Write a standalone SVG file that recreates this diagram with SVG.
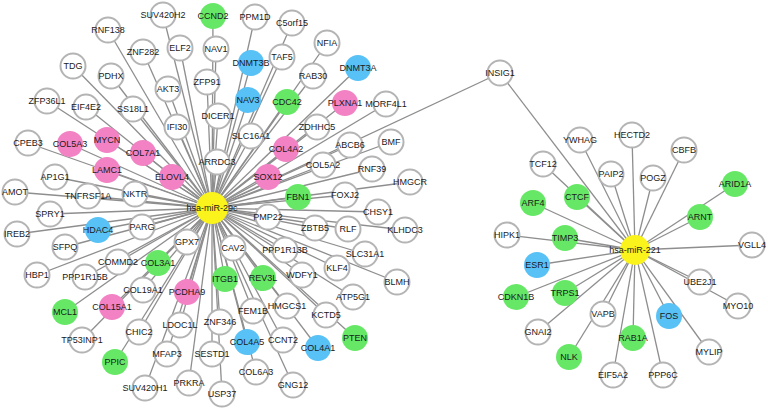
<svg xmlns="http://www.w3.org/2000/svg" width="768" height="410" viewBox="0 0 768 410">
<style>
.bg{fill:#fff}
#edges path{stroke:#8e8e8e;stroke-width:1.3;fill:none}
.n circle{fill:#fff;stroke:#b4b4b4;stroke-width:2}
.n.g circle{fill:#66e866;stroke:none}
.n.b circle{fill:#58c1f6;stroke:none}
.n.p circle{fill:#f282c4;stroke:none}
.n.h circle{fill:#fbf31c;stroke:none}
text{font-family:"Liberation Sans",Arial,sans-serif;font-size:9px;fill:#1a1a1a;text-anchor:middle;dominant-baseline:central}
</style>
<rect class="bg" width="768" height="410"/>
<g id="edges">
<path d="M212 208L163 15"/><path d="M212 208L108 30"/><path d="M212 208L180 48"/><path d="M212 208L143 52"/>
<path d="M212 208L73 66"/><path d="M212 208L111 76"/><path d="M212 208L168 89"/><path d="M212 208L47 101"/>
<path d="M212 208L86 107"/><path d="M212 208L133 109"/><path d="M212 208L177 127"/><path d="M212 208L255 17"/>
<path d="M212 208L292 23"/><path d="M212 208L216 49"/><path d="M212 208L282 57"/><path d="M212 208L327 43"/>
<path d="M212 208L207 82"/><path d="M212 208L313 76"/><path d="M212 208L218 116"/><path d="M212 208L317 127"/>
<path d="M212 208L251 136"/><path d="M212 208L386 104"/><path d="M212 208L217 162"/><path d="M212 208L350 145"/>
<path d="M212 208L391 142"/><path d="M212 208L323 165"/><path d="M212 208L372 169"/><path d="M212 208L410 182"/>
<path d="M212 208L345 195"/><path d="M212 208L378 212"/><path d="M212 208L268 217"/><path d="M212 208L315 228"/>
<path d="M212 208L348 229"/><path d="M212 208L405 230"/><path d="M212 208L285 250"/><path d="M212 208L365 254"/>
<path d="M212 208L233 248"/><path d="M212 208L187 242"/><path d="M212 208L337 268"/><path d="M212 208L397 282"/>
<path d="M212 208L302 275"/><path d="M212 208L353 297"/><path d="M212 208L287 306"/><path d="M212 208L253 311"/>
<path d="M212 208L326 315"/><path d="M212 208L220 322"/><path d="M212 208L283 340"/><path d="M212 208L212 354"/>
<path d="M212 208L256 372"/><path d="M212 208L293 385"/><path d="M212 208L222 394"/><path d="M212 208L189 383"/>
<path d="M212 208L145 388"/><path d="M212 208L167 354"/><path d="M212 208L180 325"/><path d="M212 208L139 332"/>
<path d="M212 208L143 290"/><path d="M212 208L82 340"/><path d="M212 208L85 277"/><path d="M212 208L37 275"/>
<path d="M212 208L118 262"/><path d="M212 208L65 247"/><path d="M212 208L142 227"/><path d="M212 208L17 234"/>
<path d="M212 208L50 214"/><path d="M212 208L135 194"/><path d="M212 208L88 196"/><path d="M212 208L15 192"/>
<path d="M212 208L55 177"/><path d="M212 208L28 143"/><path d="M212 208L500 73"/>
<path d="M212 208L213 16"/><path d="M212 208L287 102"/><path d="M212 208L298 197"/><path d="M212 208L158 263"/>
<path d="M212 208L65 312"/><path d="M212 208L115 362"/><path d="M212 208L225 279"/><path d="M212 208L263 278"/>
<path d="M212 208L355 338"/><path d="M212 208L251 63"/><path d="M212 208L248 100"/><path d="M212 208L358 68"/>
<path d="M212 208L98 230"/><path d="M212 208L247 342"/><path d="M212 208L318 348"/><path d="M212 208L70 144"/>
<path d="M212 208L107 140"/><path d="M212 208L143 153"/><path d="M212 208L107 170"/><path d="M212 208L172 177"/>
<path d="M212 208L345 103"/><path d="M212 208L286 149"/><path d="M212 208L268 177"/><path d="M212 208L187 292"/>
<path d="M212 208L112 307"/>
<path d="M635 250L500 73"/><path d="M635 250L580 140"/><path d="M635 250L632 135"/><path d="M635 250L684 150"/>
<path d="M635 250L543 164"/><path d="M635 250L611 174"/><path d="M635 250L653 178"/><path d="M635 250L735 184"/>
<path d="M635 250L533 203"/><path d="M635 250L577 197"/><path d="M635 250L700 217"/><path d="M635 250L507 235"/>
<path d="M635 250L565 238"/><path d="M635 250L752 245"/><path d="M635 250L537 265"/><path d="M635 250L700 282"/>
<path d="M635 250L516 297"/><path d="M635 250L565 293"/><path d="M635 250L738 306"/><path d="M635 250L603 314"/>
<path d="M635 250L669 316"/><path d="M635 250L538 332"/><path d="M635 250L633 338"/><path d="M635 250L709 352"/>
<path d="M635 250L569 357"/><path d="M635 250L613 375"/><path d="M635 250L663 375"/>
</g>
<g id="nodes">
<g id="n-SUV420H2" class="n"><circle cx="163" cy="15" r="12.5"/><text x="163" y="15">SUV420H2</text></g>
<g id="n-RNF138" class="n"><circle cx="108" cy="30" r="12.5"/><text x="108" y="30">RNF138</text></g>
<g id="n-ELF2" class="n"><circle cx="180" cy="48" r="12.5"/><text x="180" y="48">ELF2</text></g>
<g id="n-ZNF282" class="n"><circle cx="143" cy="52" r="12.5"/><text x="143" y="52">ZNF282</text></g>
<g id="n-TDG" class="n"><circle cx="73" cy="66" r="12.5"/><text x="73" y="66">TDG</text></g>
<g id="n-PDHX" class="n"><circle cx="111" cy="76" r="12.5"/><text x="111" y="76">PDHX</text></g>
<g id="n-AKT3" class="n"><circle cx="168" cy="89" r="12.5"/><text x="168" y="89">AKT3</text></g>
<g id="n-ZFP36L1" class="n"><circle cx="47" cy="101" r="12.5"/><text x="47" y="101">ZFP36L1</text></g>
<g id="n-EIF4E2" class="n"><circle cx="86" cy="107" r="12.5"/><text x="86" y="107">EIF4E2</text></g>
<g id="n-SS18L1" class="n"><circle cx="133" cy="109" r="12.5"/><text x="133" y="109">SS18L1</text></g>
<g id="n-IFI30" class="n"><circle cx="177" cy="127" r="12.5"/><text x="177" y="127">IFI30</text></g>
<g id="n-PPM1D" class="n"><circle cx="255" cy="17" r="12.5"/><text x="255" y="17">PPM1D</text></g>
<g id="n-C5orf15" class="n"><circle cx="292" cy="23" r="12.5"/><text x="292" y="23">C5orf15</text></g>
<g id="n-NAV1" class="n"><circle cx="216" cy="49" r="12.5"/><text x="216" y="49">NAV1</text></g>
<g id="n-TAF5" class="n"><circle cx="282" cy="57" r="12.5"/><text x="282" y="57">TAF5</text></g>
<g id="n-NFIA" class="n"><circle cx="327" cy="43" r="12.5"/><text x="327" y="43">NFIA</text></g>
<g id="n-ZFP91" class="n"><circle cx="207" cy="82" r="12.5"/><text x="207" y="82">ZFP91</text></g>
<g id="n-RAB30" class="n"><circle cx="313" cy="76" r="12.5"/><text x="313" y="76">RAB30</text></g>
<g id="n-DICER1" class="n"><circle cx="218" cy="116" r="12.5"/><text x="218" y="116">DICER1</text></g>
<g id="n-ZDHHC5" class="n"><circle cx="317" cy="127" r="12.5"/><text x="317" y="127">ZDHHC5</text></g>
<g id="n-SLC16A1" class="n"><circle cx="251" cy="136" r="12.5"/><text x="251" y="136">SLC16A1</text></g>
<g id="n-MORF4L1" class="n"><circle cx="386" cy="104" r="12.5"/><text x="386" y="104">MORF4L1</text></g>
<g id="n-ARRDC3" class="n"><circle cx="217" cy="162" r="12.5"/><text x="217" y="162">ARRDC3</text></g>
<g id="n-ABCB6" class="n"><circle cx="350" cy="145" r="12.5"/><text x="350" y="145">ABCB6</text></g>
<g id="n-BMF" class="n"><circle cx="391" cy="142" r="12.5"/><text x="391" y="142">BMF</text></g>
<g id="n-COL5A2" class="n"><circle cx="323" cy="165" r="12.5"/><text x="323" y="165">COL5A2</text></g>
<g id="n-RNF39" class="n"><circle cx="372" cy="169" r="12.5"/><text x="372" y="169">RNF39</text></g>
<g id="n-HMGCR" class="n"><circle cx="410" cy="182" r="12.5"/><text x="410" y="182">HMGCR</text></g>
<g id="n-FOXJ2" class="n"><circle cx="345" cy="195" r="12.5"/><text x="345" y="195">FOXJ2</text></g>
<g id="n-CHSY1" class="n"><circle cx="378" cy="212" r="12.5"/><text x="378" y="212">CHSY1</text></g>
<g id="n-PMP22" class="n"><circle cx="268" cy="217" r="12.5"/><text x="268" y="217">PMP22</text></g>
<g id="n-ZBTB5" class="n"><circle cx="315" cy="228" r="12.5"/><text x="315" y="228">ZBTB5</text></g>
<g id="n-RLF" class="n"><circle cx="348" cy="229" r="12.5"/><text x="348" y="229">RLF</text></g>
<g id="n-KLHDC3" class="n"><circle cx="405" cy="230" r="12.5"/><text x="405" y="230">KLHDC3</text></g>
<g id="n-PPP1R13B" class="n"><circle cx="285" cy="250" r="12.5"/><text x="285" y="250">PPP1R13B</text></g>
<g id="n-SLC31A1" class="n"><circle cx="365" cy="254" r="12.5"/><text x="365" y="254">SLC31A1</text></g>
<g id="n-CAV2" class="n"><circle cx="233" cy="248" r="12.5"/><text x="233" y="248">CAV2</text></g>
<g id="n-GPX7" class="n"><circle cx="187" cy="242" r="12.5"/><text x="187" y="242">GPX7</text></g>
<g id="n-KLF4" class="n"><circle cx="337" cy="268" r="12.5"/><text x="337" y="268">KLF4</text></g>
<g id="n-BLMH" class="n"><circle cx="397" cy="282" r="12.5"/><text x="397" y="282">BLMH</text></g>
<g id="n-WDFY1" class="n"><circle cx="302" cy="275" r="12.5"/><text x="302" y="275">WDFY1</text></g>
<g id="n-ATP5G1" class="n"><circle cx="353" cy="297" r="12.5"/><text x="353" y="297">ATP5G1</text></g>
<g id="n-HMGCS1" class="n"><circle cx="287" cy="306" r="12.5"/><text x="287" y="306">HMGCS1</text></g>
<g id="n-FEM1B" class="n"><circle cx="253" cy="311" r="12.5"/><text x="253" y="311">FEM1B</text></g>
<g id="n-KCTD5" class="n"><circle cx="326" cy="315" r="12.5"/><text x="326" y="315">KCTD5</text></g>
<g id="n-ZNF346" class="n"><circle cx="220" cy="322" r="12.5"/><text x="220" y="322">ZNF346</text></g>
<g id="n-CCNT2" class="n"><circle cx="283" cy="340" r="12.5"/><text x="283" y="340">CCNT2</text></g>
<g id="n-SESTD1" class="n"><circle cx="212" cy="354" r="12.5"/><text x="212" y="354">SESTD1</text></g>
<g id="n-COL6A3" class="n"><circle cx="256" cy="372" r="12.5"/><text x="256" y="372">COL6A3</text></g>
<g id="n-GNG12" class="n"><circle cx="293" cy="385" r="12.5"/><text x="293" y="385">GNG12</text></g>
<g id="n-USP37" class="n"><circle cx="222" cy="394" r="12.5"/><text x="222" y="394">USP37</text></g>
<g id="n-PRKRA" class="n"><circle cx="189" cy="383" r="12.5"/><text x="189" y="383">PRKRA</text></g>
<g id="n-SUV420H1" class="n"><circle cx="145" cy="388" r="12.5"/><text x="145" y="388">SUV420H1</text></g>
<g id="n-MFAP3" class="n"><circle cx="167" cy="354" r="12.5"/><text x="167" y="354">MFAP3</text></g>
<g id="n-LDOC1L" class="n"><circle cx="180" cy="325" r="12.5"/><text x="180" y="325">LDOC1L</text></g>
<g id="n-CHIC2" class="n"><circle cx="139" cy="332" r="12.5"/><text x="139" y="332">CHIC2</text></g>
<g id="n-COL19A1" class="n"><circle cx="143" cy="290" r="12.5"/><text x="143" y="290">COL19A1</text></g>
<g id="n-TP53INP1" class="n"><circle cx="82" cy="340" r="12.5"/><text x="82" y="340">TP53INP1</text></g>
<g id="n-PPP1R15B" class="n"><circle cx="85" cy="277" r="12.5"/><text x="85" y="277">PPP1R15B</text></g>
<g id="n-HBP1" class="n"><circle cx="37" cy="275" r="12.5"/><text x="37" y="275">HBP1</text></g>
<g id="n-COMMD2" class="n"><circle cx="118" cy="262" r="12.5"/><text x="118" y="262">COMMD2</text></g>
<g id="n-SFPQ" class="n"><circle cx="65" cy="247" r="12.5"/><text x="65" y="247">SFPQ</text></g>
<g id="n-PARG" class="n"><circle cx="142" cy="227" r="12.5"/><text x="142" y="227">PARG</text></g>
<g id="n-IREB2" class="n"><circle cx="17" cy="234" r="12.5"/><text x="17" y="234">IREB2</text></g>
<g id="n-SPRY1" class="n"><circle cx="50" cy="214" r="12.5"/><text x="50" y="214">SPRY1</text></g>
<g id="n-NKTR" class="n"><circle cx="135" cy="194" r="12.5"/><text x="135" y="194">NKTR</text></g>
<g id="n-TNFRSF1A" class="n"><circle cx="88" cy="196" r="12.5"/><text x="88" y="196">TNFRSF1A</text></g>
<g id="n-AMOT" class="n"><circle cx="15" cy="192" r="12.5"/><text x="15" y="192">AMOT</text></g>
<g id="n-AP1G1" class="n"><circle cx="55" cy="177" r="12.5"/><text x="55" y="177">AP1G1</text></g>
<g id="n-CPEB3" class="n"><circle cx="28" cy="143" r="12.5"/><text x="28" y="143">CPEB3</text></g>
<g id="n-INSIG1" class="n"><circle cx="500" cy="73" r="12.5"/><text x="500" y="73">INSIG1</text></g>
<g id="n-CCND2" class="n g"><circle cx="213" cy="16" r="13"/><text x="213" y="16">CCND2</text></g>
<g id="n-CDC42" class="n g"><circle cx="287" cy="102" r="13"/><text x="287" y="102">CDC42</text></g>
<g id="n-FBN1" class="n g"><circle cx="298" cy="197" r="13"/><text x="298" y="197">FBN1</text></g>
<g id="n-COL3A1" class="n g"><circle cx="158" cy="263" r="13"/><text x="158" y="263">COL3A1</text></g>
<g id="n-MCL1" class="n g"><circle cx="65" cy="312" r="13"/><text x="65" y="312">MCL1</text></g>
<g id="n-PPIC" class="n g"><circle cx="115" cy="362" r="13"/><text x="115" y="362">PPIC</text></g>
<g id="n-ITGB1" class="n g"><circle cx="225" cy="279" r="13"/><text x="225" y="279">ITGB1</text></g>
<g id="n-REV3L" class="n g"><circle cx="263" cy="278" r="13"/><text x="263" y="278">REV3L</text></g>
<g id="n-PTEN" class="n g"><circle cx="355" cy="338" r="13"/><text x="355" y="338">PTEN</text></g>
<g id="n-DNMT3B" class="n b"><circle cx="251" cy="63" r="13"/><text x="251" y="63">DNMT3B</text></g>
<g id="n-NAV3" class="n b"><circle cx="248" cy="100" r="13"/><text x="248" y="100">NAV3</text></g>
<g id="n-DNMT3A" class="n b"><circle cx="358" cy="68" r="13"/><text x="358" y="68">DNMT3A</text></g>
<g id="n-HDAC4" class="n b"><circle cx="98" cy="230" r="13"/><text x="98" y="230">HDAC4</text></g>
<g id="n-COL4A5" class="n b"><circle cx="247" cy="342" r="13"/><text x="247" y="342">COL4A5</text></g>
<g id="n-COL4A1" class="n b"><circle cx="318" cy="348" r="13"/><text x="318" y="348">COL4A1</text></g>
<g id="n-COL5A3" class="n p"><circle cx="70" cy="144" r="13"/><text x="70" y="144">COL5A3</text></g>
<g id="n-MYCN" class="n p"><circle cx="107" cy="140" r="13"/><text x="107" y="140">MYCN</text></g>
<g id="n-COL7A1" class="n p"><circle cx="143" cy="153" r="13"/><text x="143" y="153">COL7A1</text></g>
<g id="n-LAMC1" class="n p"><circle cx="107" cy="170" r="13"/><text x="107" y="170">LAMC1</text></g>
<g id="n-ELOVL4" class="n p"><circle cx="172" cy="177" r="13"/><text x="172" y="177">ELOVL4</text></g>
<g id="n-PLXNA1" class="n p"><circle cx="345" cy="103" r="13"/><text x="345" y="103">PLXNA1</text></g>
<g id="n-COL4A2" class="n p"><circle cx="286" cy="149" r="13"/><text x="286" y="149">COL4A2</text></g>
<g id="n-SOX12" class="n p"><circle cx="268" cy="177" r="13"/><text x="268" y="177">SOX12</text></g>
<g id="n-PCDHA9" class="n p"><circle cx="187" cy="292" r="13"/><text x="187" y="292">PCDHA9</text></g>
<g id="n-COL15A1" class="n p"><circle cx="112" cy="307" r="13"/><text x="112" y="307">COL15A1</text></g>
<g id="n-hsa-miR-29c" class="n h"><circle cx="212" cy="208" r="16"/><text x="212" y="208">hsa-miR-29c</text></g>
<g id="n-YWHAG" class="n"><circle cx="580" cy="140" r="12.5"/><text x="580" y="140">YWHAG</text></g>
<g id="n-HECTD2" class="n"><circle cx="632" cy="135" r="12.5"/><text x="632" y="135">HECTD2</text></g>
<g id="n-CBFB" class="n"><circle cx="684" cy="150" r="12.5"/><text x="684" y="150">CBFB</text></g>
<g id="n-TCF12" class="n"><circle cx="543" cy="164" r="12.5"/><text x="543" y="164">TCF12</text></g>
<g id="n-PAIP2" class="n"><circle cx="611" cy="174" r="12.5"/><text x="611" y="174">PAIP2</text></g>
<g id="n-POGZ" class="n"><circle cx="653" cy="178" r="12.5"/><text x="653" y="178">POGZ</text></g>
<g id="n-HIPK1" class="n"><circle cx="507" cy="235" r="12.5"/><text x="507" y="235">HIPK1</text></g>
<g id="n-VGLL4" class="n"><circle cx="752" cy="245" r="12.5"/><text x="752" y="245">VGLL4</text></g>
<g id="n-UBE2J1" class="n"><circle cx="700" cy="282" r="12.5"/><text x="700" y="282">UBE2J1</text></g>
<g id="n-MYO10" class="n"><circle cx="738" cy="306" r="12.5"/><text x="738" y="306">MYO10</text></g>
<g id="n-VAPB" class="n"><circle cx="603" cy="314" r="12.5"/><text x="603" y="314">VAPB</text></g>
<g id="n-GNAI2" class="n"><circle cx="538" cy="332" r="12.5"/><text x="538" y="332">GNAI2</text></g>
<g id="n-MYLIP" class="n"><circle cx="709" cy="352" r="12.5"/><text x="709" y="352">MYLIP</text></g>
<g id="n-EIF5A2" class="n"><circle cx="613" cy="375" r="12.5"/><text x="613" y="375">EIF5A2</text></g>
<g id="n-PPP6C" class="n"><circle cx="663" cy="375" r="12.5"/><text x="663" y="375">PPP6C</text></g>
<g id="n-ARID1A" class="n g"><circle cx="735" cy="184" r="13"/><text x="735" y="184">ARID1A</text></g>
<g id="n-ARF4" class="n g"><circle cx="533" cy="203" r="13"/><text x="533" y="203">ARF4</text></g>
<g id="n-CTCF" class="n g"><circle cx="577" cy="197" r="13"/><text x="577" y="197">CTCF</text></g>
<g id="n-ARNT" class="n g"><circle cx="700" cy="217" r="13"/><text x="700" y="217">ARNT</text></g>
<g id="n-TIMP3" class="n g"><circle cx="565" cy="238" r="13"/><text x="565" y="238">TIMP3</text></g>
<g id="n-CDKN1B" class="n g"><circle cx="516" cy="297" r="13"/><text x="516" y="297">CDKN1B</text></g>
<g id="n-TRPS1" class="n g"><circle cx="565" cy="293" r="13"/><text x="565" y="293">TRPS1</text></g>
<g id="n-RAB1A" class="n g"><circle cx="633" cy="338" r="13"/><text x="633" y="338">RAB1A</text></g>
<g id="n-NLK" class="n g"><circle cx="569" cy="357" r="13"/><text x="569" y="357">NLK</text></g>
<g id="n-ESR1" class="n b"><circle cx="537" cy="265" r="13"/><text x="537" y="265">ESR1</text></g>
<g id="n-FOS" class="n b"><circle cx="669" cy="316" r="13"/><text x="669" y="316">FOS</text></g>
<g id="n-hsa-miR-221" class="n h"><circle cx="635" cy="250" r="15"/><text x="635" y="250">hsa-miR-221</text></g>
</g>
</svg>
